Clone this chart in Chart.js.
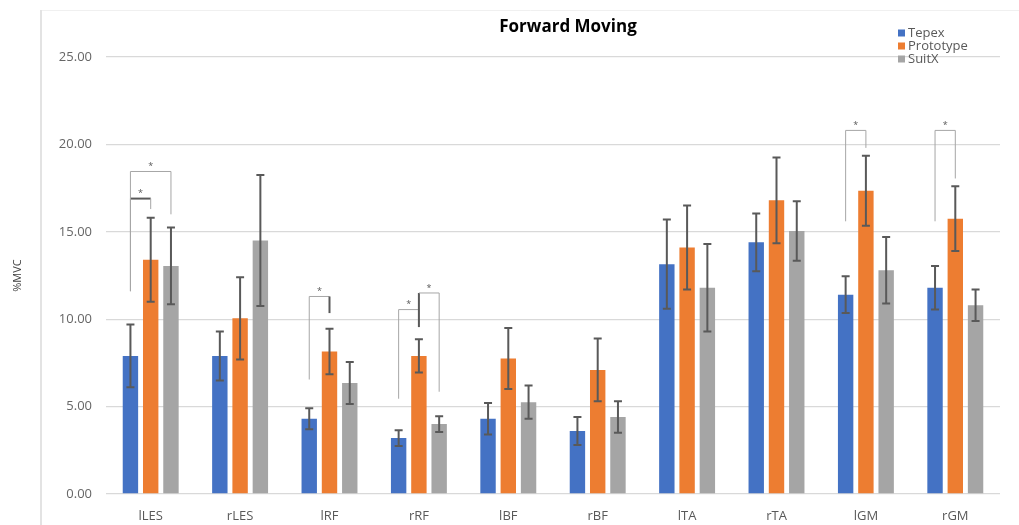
<!DOCTYPE html>
<html>
<head>
<meta charset="utf-8">
<title>Forward Moving</title>
<script src="https://cdn.jsdelivr.net/npm/chart.js"></script>
<style>
  html, body { margin: 0; padding: 0; background: #ffffff; }
  #wrap { width: 1019px; height: 525px; }
</style>
</head>
<body>
<div id="wrap"><canvas id="chart" width="1019" height="525"></canvas></div>
<script>
// Muscle groups on the x axis
const categories = ['lLES', 'rLES', 'lRF', 'rRF', 'lBF', 'rBF', 'lTA', 'rTA', 'lGM', 'rGM'];

// Mean %MVC per device
const tepex     = [7.9, 7.9, 4.3, 3.2, 4.3, 3.6, 13.15, 14.4, 11.4, 11.8];
const prototype = [13.4, 10.05, 8.15, 7.9, 7.75, 7.1, 14.1, 16.8, 17.35, 15.75];
const suitx     = [13.05, 14.5, 6.35, 4.0, 5.25, 4.4, 11.8, 15.05, 12.8, 10.8];

// Standard deviations (error bar half-lengths)
const tepexErr     = [1.8, 1.4, 0.6, 0.45, 0.9, 0.8, 2.55, 1.65, 1.05, 1.25];
const prototypeErr = [2.4, 2.35, 1.3, 0.95, 1.75, 1.8, 2.4, 2.45, 2.0, 1.85];
const suitxErr     = [2.2, 3.75, 1.2, 0.45, 0.95, 0.9, 2.5, 1.7, 1.9, 0.9];

// Y axis ticks
const yTicks = [0, 5, 10, 15, 20, 25];

// Significance brackets: category, the two compared series, and the
// heights (in %MVC) of the left leg foot, the bar, and the right leg foot
const sigCategory = [0, 0, 2, 3, 3, 8, 9];
const sigFrom     = [0, 0, 0, 0, 1, 0, 0];
const sigTo       = [1, 2, 1, 1, 2, 1, 1];
const sigLeftFoot = [11.6, 11.6, 6.55, 5.45, 9.55, 15.6, 15.6];
const sigTop      = [16.9, 18.45, 11.3, 10.55, 11.5, 20.8, 20.8];
const sigRightFoot= [16.3, 16.0, 10.35, 9.55, 5.85, 19.8, 18.05];
const sigStrong   = ['top', '', 'right', '', 'left', '', ''];

const seriesNames  = ['Tepex', 'Prototype', 'SuitX'];
const seriesColors = ['#4472C4', '#ED7D31', '#A5A5A5'];
const seriesValues = [tepex, prototype, suitx];
const seriesErrors = [tepexErr, prototypeErr, suitxErr];

const FONT = '"Open Sans", "DejaVu Sans", sans-serif';

// Error bars with caps
const errorBars = {
  id: 'errorBars',
  afterDatasetsDraw(chart) {
    const y = chart.scales.y;
    const ctx = chart.ctx;
    ctx.save();
    ctx.strokeStyle = '#595959';
    ctx.lineWidth = 2;
    chart.data.datasets.forEach((ds, i) => {
      const meta = chart.getDatasetMeta(i);
      const errs = seriesErrors[i];
      meta.data.forEach((bar, j) => {
        const v = ds.data[j];
        const hi = y.getPixelForValue(v + errs[j]);
        const lo = y.getPixelForValue(v - errs[j]);
        const cap = 4;
        ctx.beginPath();
        ctx.moveTo(bar.x, hi); ctx.lineTo(bar.x, lo);
        ctx.moveTo(bar.x - cap, hi); ctx.lineTo(bar.x + cap, hi);
        ctx.moveTo(bar.x - cap, lo); ctx.lineTo(bar.x + cap, lo);
        ctx.stroke();
      });
    });
    ctx.restore();
  }
};

// Significance brackets with asterisks
const sigBrackets = {
  id: 'sigBrackets',
  afterDatasetsDraw(chart) {
    const y = chart.scales.y;
    const ctx = chart.ctx;
    ctx.save();
    for (let k = 0; k < sigCategory.length; k++) {
      const c = sigCategory[k];
      const xa = chart.getDatasetMeta(sigFrom[k]).data[c].x;
      const xb = chart.getDatasetMeta(sigTo[k]).data[c].x;
      const yl = y.getPixelForValue(sigLeftFoot[k]);
      const yt = y.getPixelForValue(sigTop[k]);
      const yr = y.getPixelForValue(sigRightFoot[k]);
      const seg = (x1, y1, x2, y2, strong) => {
        ctx.beginPath();
        ctx.strokeStyle = strong ? '#595959' : '#A6A6A6';
        ctx.lineWidth = strong ? 2 : 1;
        ctx.moveTo(x1, y1); ctx.lineTo(x2, y2);
        ctx.stroke();
      };
      seg(xa, yl, xa, yt, sigStrong[k] === 'left');
      seg(xa, yt, xb, yt, sigStrong[k] === 'top');
      seg(xb, yt, xb, yr, sigStrong[k] === 'right');
      ctx.fillStyle = '#595959';
      ctx.font = '9px ' + FONT;
      ctx.textAlign = 'center';
      ctx.textBaseline = 'middle';
      ctx.fillText('*', (xa + xb) / 2, yt - 5);
    }
    ctx.restore();
  }
};

// Frame, title and legend
const decorations = {
  id: 'decorations',
  beforeDraw(chart) {
    const ctx = chart.ctx;
    ctx.save();
    ctx.fillStyle = '#ffffff';
    ctx.fillRect(0, 0, chart.width, chart.height);
    ctx.strokeStyle = '#E3E3E3';
    ctx.lineWidth = 2;
    ctx.beginPath();
    ctx.moveTo(41, 10); ctx.lineTo(41, chart.height);
    ctx.stroke();
    ctx.strokeStyle = '#F0F0F0';
    ctx.lineWidth = 1;
    ctx.beginPath();
    ctx.moveTo(42, 10.5); ctx.lineTo(chart.width, 10.5);
    ctx.stroke();
    ctx.restore();
  },
  afterDraw(chart) {
    const ctx = chart.ctx;
    ctx.save();
    ctx.fillStyle = '#000000';
    ctx.font = 'bold 17px ' + FONT;
    ctx.textAlign = 'center';
    ctx.textBaseline = 'middle';
    ctx.fillText('Forward Moving', 568, 27);
    ctx.font = '13px ' + FONT;
    ctx.textAlign = 'left';
    seriesNames.forEach((name, i) => {
      const ty = 33 + i * 13;
      ctx.fillStyle = seriesColors[i];
      ctx.fillRect(898, ty - 3.5, 7, 7);
      ctx.fillStyle = '#595959';
      ctx.fillText(name, 908, ty);
    });
    ctx.restore();
  }
};

new Chart(document.getElementById('chart'), {
  type: 'bar',
  data: {
    labels: categories,
    datasets: seriesNames.map((name, i) => ({
      label: name,
      data: seriesValues[i],
      backgroundColor: seriesColors[i],
      borderWidth: 0,
      categoryPercentage: 0.68,
      barPercentage: 0.76
    }))
  },
  options: {
    responsive: false,
    animation: false,
    layout: { padding: { left: 0, right: 19, top: 57, bottom: 0 } },
    plugins: {
      legend: { display: false },
      title: { display: false },
      tooltip: { enabled: false }
    },
    scales: {
      x: {
        grid: { display: false, drawTicks: false },
        border: { display: false },
        ticks: { color: '#595959', font: { family: FONT, size: 13 }, padding: 14, maxRotation: 0 },
        afterFit(scale) { scale.height = 31; }
      },
      y: {
        min: 0,
        max: 25,
        afterBuildTicks(scale) { scale.ticks = yTicks.map(v => ({ value: v })); },
        grid: { color: '#D9D9D9', lineWidth: 1.3, drawTicks: false },
        border: { display: false },
        ticks: {
          color: '#666666',
          font: { family: FONT, size: 13 },
          padding: 14,
          callback: v => Number(v).toFixed(2)
        },
        title: {
          display: true,
          text: '%MVC',
          color: '#404040',
          font: { family: FONT, size: 11 },
          padding: { top: 11, bottom: 0 }
        },
        afterFit(scale) { scale.width = 106; }
      }
    }
  },
  plugins: [decorations, errorBars, sigBrackets]
});
</script>
</body>
</html>
